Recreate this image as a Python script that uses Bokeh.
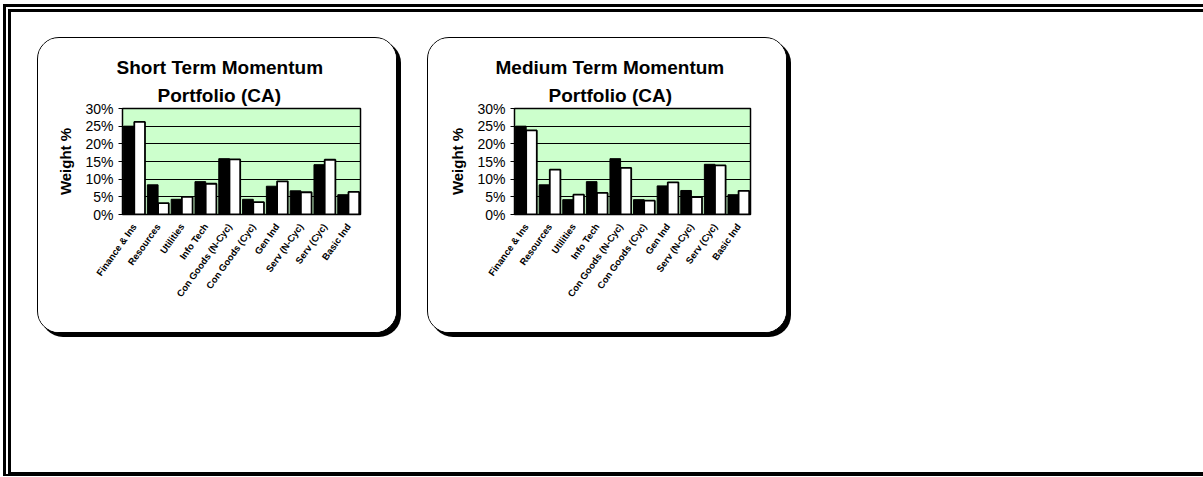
from bokeh.plotting import figure
from bokeh.layouts import row, column
from bokeh.models import Spacer, FactorRange, Range1d, FixedTicker, PrintfTickFormatter, Title
from bokeh.transform import dodge
from bokeh.embed import file_html
from bokeh.resources import INLINE

categories = ["Finance & Ins", "Resources", "Utilities", "Info Tech", "Con Goods (N-Cyc)",
              "Con Goods (Cyc)", "Gen Ind", "Serv (N-Cyc)", "Serv (Cyc)", "Basic Ind"]
short_black = [25.0, 8.4, 4.3, 9.3, 15.8, 4.3, 8.0, 6.7, 14.1, 5.6]
short_white = [26.2, 3.2, 5.0, 8.7, 15.6, 3.5, 9.4, 6.3, 15.5, 6.4]
medium_black = [25.0, 8.4, 4.2, 9.3, 15.8, 4.2, 8.1, 6.8, 14.2, 5.6]
medium_white = [23.8, 12.7, 5.6, 6.1, 13.2, 3.9, 9.1, 4.9, 13.9, 6.7]
y_ticks = [0, 5, 10, 15, 20, 25, 30]

FONT = "Liberation Sans"

card_styles = {
    "border": "1.5px solid black",
    "border-radius": "22px",
    "box-shadow": "4px 4px 0px black",
    "overflow": "hidden",
    "background-color": "white",
}


def style_title(t, offset, standoff):
    t.align = "left"
    t.offset = offset
    t.text_font = FONT
    t.text_font_size = "19px"
    t.text_font_style = "bold"
    t.text_color = "black"
    t.standoff = standoff


def make_card(line1, line2, off1, off2, black, white, left_border):
    p = figure(width=360, height=296, x_range=FactorRange(*categories),
               y_range=Range1d(0, 30), output_backend="svg", toolbar_location=None,
               min_border_left=left_border, min_border_right=38, min_border_top=70,
               min_border_bottom=120, styles=card_styles)
    p.background_fill_color = "#CCFFCC"
    p.border_fill_color = "white"
    p.outline_line_color = "black"
    p.outline_line_width = 1.5

    p.title.text = line1
    style_title(p.title, off1, 4)
    t2 = Title(text=line2)
    style_title(t2, off2, 6)
    p.add_layout(t2, "above")

    data = dict(cat=categories, black=black, white=white)
    p.vbar(x=dodge("cat", -0.23, range=p.x_range), top="black", width=0.45, source=data,
           fill_color="black", line_color="black", line_width=1)
    p.vbar(x=dodge("cat", 0.22, range=p.x_range), top="white", width=0.45, source=data,
           fill_color="white", line_color="black", line_width=1.8)

    p.xgrid.grid_line_color = None
    p.ygrid.grid_line_color = "black"
    p.ygrid.grid_line_width = 1
    p.ygrid.ticker = FixedTicker(ticks=y_ticks)

    ya = p.yaxis[0]
    ya.ticker = FixedTicker(ticks=y_ticks)
    ya.formatter = PrintfTickFormatter(format="%d%%")
    ya.axis_label = "Weight %"
    ya.axis_label_text_font = FONT
    ya.axis_label_text_font_size = "15px"
    ya.axis_label_text_font_style = "bold"
    ya.axis_label_text_color = "black"
    ya.axis_label_standoff = 8
    ya.major_label_text_font = FONT
    ya.major_label_text_font_size = "14px"
    ya.major_label_text_color = "black"
    ya.major_tick_out = 4
    ya.major_tick_in = 0
    ya.minor_tick_line_color = None
    ya.axis_line_color = "black"
    ya.major_tick_line_color = "black"

    xa = p.xaxis[0]
    xa.major_label_orientation = 0.95
    xa.major_label_text_font = FONT
    xa.major_label_text_font_size = "9.5px"
    xa.major_label_text_font_style = "bold"
    xa.major_label_text_color = "black"
    xa.major_tick_out = 0
    xa.major_tick_in = 0
    xa.axis_line_color = "black"
    xa.major_label_standoff = 10
    return p


p1 = make_card("Short Term Momentum", "Portfolio (CA)", -6, 35, short_black, short_white, 84)
p2 = make_card("Medium Term Momentum", "Portfolio (CA)", -19, 34, medium_black, medium_white, 86)

cards = row(Spacer(width=26, height=296), p1, Spacer(width=30, height=296), p2,
            Spacer(width=400, height=296))
root = column(Spacer(width=1192, height=25), cards, Spacer(width=1192, height=139),
              styles={"margin-top": "4px", "margin-left": "3px",
                      "border-top": "8px double black", "border-left": "8px double black",
                      "border-bottom": "4px solid black"})

p = root
open("out.html", "w").write(file_html(p, INLINE))
